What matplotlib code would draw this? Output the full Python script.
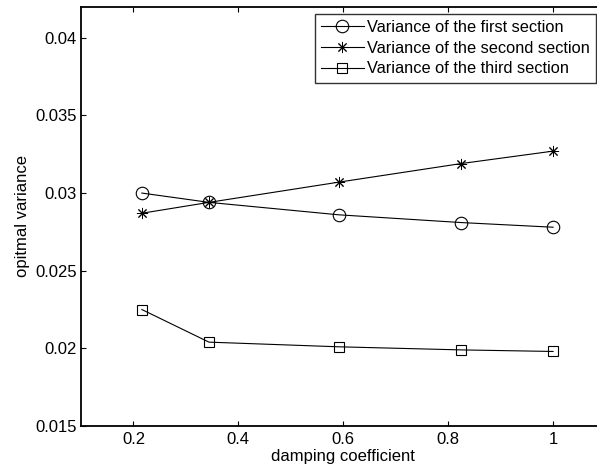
import matplotlib
matplotlib.use("Agg")
import matplotlib.pyplot as plt

plt.rcParams['font.family'] = ['Liberation Sans', 'DejaVu Sans']

damping = [0.216, 0.344, 0.591, 0.825, 1.0]
var_first = [0.0300, 0.0294, 0.0286, 0.0281, 0.0278]
var_second = [0.0287, 0.0294, 0.0307, 0.0319, 0.0327]
var_third = [0.0225, 0.0204, 0.0201, 0.0199, 0.0198]

labels = ['Variance of the first section',
          'Variance of the second section',
          'Variance of the third section']
xticks = [0.2, 0.4, 0.6, 0.8, 1.0]
xticklabels = ['0.2', '0.4', '0.6', '0.8', '1']
yticks = [0.015, 0.02, 0.025, 0.03, 0.035, 0.04]
yticklabels = ['0.015', '0.02', '0.025', '0.03', '0.035', '0.04']

W, H = 597, 473
fig = plt.figure(figsize=(W / 100, H / 100), dpi=100)
left, right, top, bottom = 81, 605.5, 6.7, 426
ax = fig.add_axes([left / W, 1 - bottom / H, (right - left) / W, (bottom - top) / H])

lw = 0.8
ax.plot(damping, var_first, color='black', lw=lw, marker='o', ms=9,
        mfc='none', mec='black', mew=0.8, label=labels[0])
ax.plot(damping, var_second, color='black', lw=lw, marker=(8, 2, 0), ms=8,
        mec='black', mew=0.7, label=labels[1])
ax.plot(damping, var_third, color='black', lw=lw, marker='s', ms=7.2,
        mfc='none', mec='black', mew=0.8, label=labels[2])

ax.set_xlim(0.1, 1.1)
ax.set_ylim(0.015, 0.042)
ax.set_xticks(xticks)
ax.set_xticklabels(xticklabels)
ax.set_yticks(yticks)
ax.set_yticklabels(yticklabels)
ax.tick_params(direction='in', length=3.6, width=0.8, labelsize=12,
               top=True, right=True)
ax.tick_params(axis='x', pad=4)
ax.tick_params(axis='y', pad=3)
for s in ax.spines.values():
    s.set_linewidth(1.3)

ax.set_xlabel('damping coefficient', fontsize=12, labelpad=2)
ax.set_ylabel('opitmal variance', fontsize=12, labelpad=4)

leg = ax.legend(loc='upper right', bbox_to_anchor=(596 / W, 1 - 14 / H),
                bbox_transform=fig.transFigure, borderaxespad=0,
                fancybox=False, frameon=True, fontsize=11.8,
                handlelength=2.6, handletextpad=0.2, labelspacing=0.34,
                borderpad=0.38)
leg.get_frame().set_edgecolor('black')
leg.get_frame().set_linewidth(1.0)

fig.savefig('out.png', dpi=100)
